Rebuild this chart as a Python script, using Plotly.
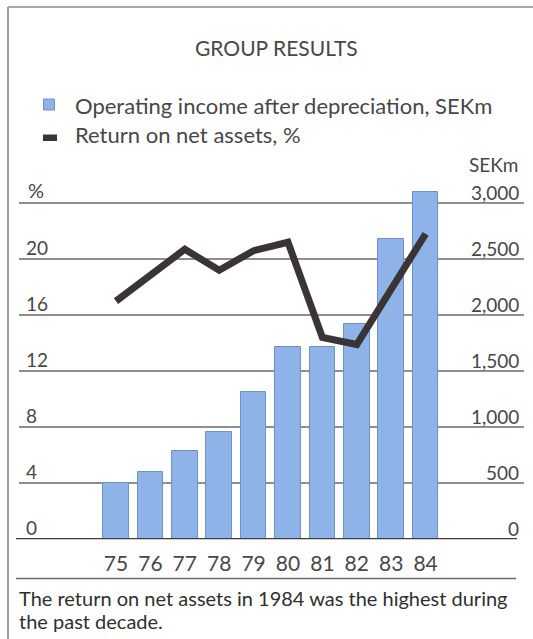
import plotly.graph_objects as go

# ---- data -------------------------------------------------------------
years = [1975, 1976, 1977, 1978, 1979, 1980, 1981, 1982, 1983, 1984]
year_labels = ["75", "76", "77", "78", "79", "80", "81", "82", "83", "84"]
operating_income = [500, 600, 785, 955, 1310, 1720, 1720, 1925, 2675, 3100]   # SEKm
return_on_assets = [17.0, 18.85, 20.7, 19.2, 20.6, 21.2, 14.4, 13.9, 17.9, 21.8]  # %

pct_ticks = [0, 4, 8, 12, 16, 20]
sek_ticks = [0, 500, 1000, 1500, 2000, 2500, 3000]
sek_tick_text = ["0", "500", "1,000", "1,500", "2,000", "2,500", "3,000"]

# ---- page geometry (pixels -> paper fractions) ------------------------
W, H = 533, 639


def px(x):
    return x / W


def py(y):
    return 1 - y / H


FONT = "Lato"
TEXT = "#474747"
BAR_FILL = "#8db3e9"
BAR_EDGE = "#6f91c6"
LINE = "#3b3435"
GRID = "#8e8e8e"

plot_left, plot_right = 19, 524
plot_bottom, plot_top = 539.3, 175

fig = go.Figure()

# bars on the base (SEKm) axis, the return line on the overlaying (%) axis so it sits on top
fig.add_trace(go.Bar(
    x=years, y=operating_income, yaxis="y",
    width=0.74,
    marker=dict(color=BAR_FILL, line=dict(color=BAR_EDGE, width=1)),
    showlegend=False, hoverinfo="x+y",
))

fig.add_trace(go.Scatter(
    x=years, y=return_on_assets, yaxis="y2",
    mode="lines",
    line=dict(color=LINE, width=7),
    showlegend=False, hoverinfo="x+y",
))


def label(text, x, y, xref="paper", yref="paper", xanchor="left", size=19,
          color=TEXT, yshift=0):
    return dict(text=text, x=x, y=y, xref=xref, yref=yref, xanchor=xanchor,
                yanchor="middle", yshift=yshift, showarrow=False,
                font=dict(family=FONT, size=size, color=color))


# ---- text: title, legend, axis labels, caption ------------------------
ann = [
    label("GROUP RESULTS", px(276.5), py(48), xanchor="center", size=21),
    label("Operating income after depreciation, SEKm", px(73), py(105), size=22),
    label("Return on net assets, %", px(73), py(134), size=22),
]

for v in pct_ticks:
    ann.append(label(str(v), px(24), v, yref="y2", size=19, yshift=12))
ann.append(label("%", px(26), 24, yref="y2", size=20, yshift=13))

for v, t in zip(sek_ticks, sek_tick_text):
    ann.append(label(t, px(521), v, yref="y", xanchor="right", size=19, yshift=11))
ann.append(label("SEKm", px(521), py(165), xanchor="right", size=19))

ann.append(label("The return on net assets in 1984 was the highest during",
                 px(17), py(598), size=20, color="#2f2f2f"))
ann.append(label("the past decade.", px(17), py(621), size=20, color="#2f2f2f"))

# ---- shapes: frame, baseline, separator, legend keys ------------------
shapes = [
    dict(type="line", xref="paper", yref="paper", x0=px(8), x1=px(8), y0=py(7), y1=0,
         line=dict(color="#9c9c9c", width=2)),
    dict(type="line", xref="paper", yref="paper", x0=px(8), x1=1, y0=py(7), y1=py(7),
         line=dict(color="#a8a8a8", width=2)),
    dict(type="line", xref="paper", yref="y", x0=px(16), x1=px(517), y0=0, y1=0,
         line=dict(color="#3e3e3e", width=2.5)),
    dict(type="line", xref="paper", yref="paper", x0=px(16), x1=px(516), y0=py(578.5), y1=py(578.5),
         line=dict(color="#6a6a6a", width=1.5)),
    dict(type="rect", xref="paper", yref="paper", x0=px(43.5), x1=px(54.5), y0=py(110), y1=py(99),
         fillcolor=BAR_FILL, line=dict(color=BAR_EDGE, width=1)),
    dict(type="rect", xref="paper", yref="paper", x0=px(43), x1=px(57), y0=py(141), y1=py(134.5),
         fillcolor=LINE, line=dict(width=0)),
]

x_left = 1975 - (116 - plot_left) / 34.4
x_right = 1984 + (plot_right - 425.6) / 34.4

fig.update_layout(
    width=W, height=H,
    margin=dict(l=0, r=0, t=0, b=0),
    paper_bgcolor="white", plot_bgcolor="rgba(0,0,0,0)",
    xaxis=dict(domain=[px(plot_left), px(plot_right)], range=[x_left, x_right],
               tickvals=years, ticktext=year_labels, showgrid=False, zeroline=False,
               showline=False, ticks="", ticklabelstandoff=10,
               tickfont=dict(family=FONT, size=21, color=TEXT)),
    yaxis=dict(domain=[py(plot_bottom), py(plot_top)], range=[0, 3250],
               tickvals=[500, 1000, 1500, 2000, 2500, 3000], showticklabels=False,
               showgrid=True, gridcolor=GRID, gridwidth=1.5, zeroline=False, showline=False),
    yaxis2=dict(overlaying="y", side="right", range=[0, 26], showgrid=False,
                showticklabels=False, zeroline=False, showline=False),
    annotations=ann,
    shapes=shapes,
    bargap=0,
)

fig.write_html("out.html")
